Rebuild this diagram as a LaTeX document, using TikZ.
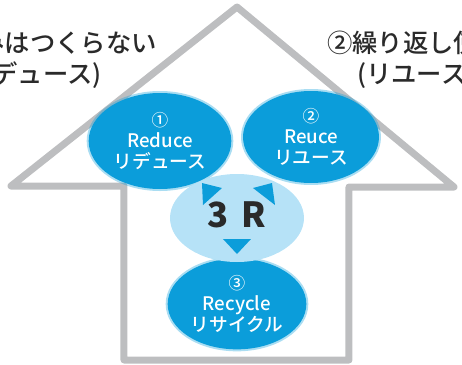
\documentclass[tikz,border=0pt]{standalone}
\usepackage{fontspec}
\setmainfont{Noto Sans CJK JP}
\newfontfamily\jpmedium{Noto Sans CJK JP Medium}
\usetikzlibrary{shapes.geometric}

\definecolor{housegray}{HTML}{BDBEC0}
\definecolor{ballblue}{HTML}{0B9DDA}
\definecolor{coreblue}{HTML}{B6E2F7}
\definecolor{inktext}{HTML}{2A2A2A}

\begin{document}
\begin{tikzpicture}
  [x=0.75pt,y=-0.75pt,
   ball/.style={ellipse,fill=ballblue,text=white,inner sep=0pt,align=center,
     preaction={draw=ballblue,draw opacity=.35,line width=3pt},
     font=\fontsize{14}{16}\selectfont\jpmedium},
   note/.style={inner sep=0pt,text=inktext,font=\fontsize{19}{20}\selectfont\jpmedium}]
  \useasboundingbox (0,0) rectangle (462,365);
  \clip (0,0) rectangle (462,365);

  % house outline
  \draw[housegray,line width=5.25pt,line join=round]
    (124,360) -- (124,186) -- (11,186) -- (237,7) -- (454,187)
    -- (349,187) -- (349,360) -- cycle;

  % captions
  \node[note,anchor=base east] (gomi1) at (157,52) {①ごみはつくらない};
  \node[note,anchor=base east] (gomi2) at (102,83) {(リデュース)};
  \node[note,anchor=base west] (kuri1) at (327,52) {②繰り返し使う};
  \node[note,anchor=base west] (kuri2) at (357,83) {(リユース)};

  % the three R's
  \node[ball,minimum width=107pt,minimum height=72pt] (reduce) at (160,141)
    {{\fontsize{12.5}{12}\selectfont ①}\\[0pt]Reduce\\リデュース};
  \node[ball,minimum width=102pt,minimum height=69pt] (reuse) at (311,137)
    {{\fontsize{12.5}{12}\selectfont ②}\\[0pt]Reuce\\リユース};
  \node[ball,minimum width=104pt,minimum height=68pt] (recycle) at (237,304)
    {{\fontsize{12.5}{12}\selectfont ③}\\[0pt]Recycle\\リサイクル};

  \node[ellipse,fill=coreblue,inner sep=0pt,minimum width=100.5pt,minimum height=66pt] (core) at (237,218) {};
  \node[text=inktext,font=\fontsize{26}{26}\selectfont\bfseries] (three) at (237,215) {3 \kern4pt R};

  % pointers
  \fill[ballblue] (202,183) -- (222,188) -- (203,205) -- cycle;
  \fill[ballblue] (272,183) -- (253,188) -- (275,205) -- cycle;
  \fill[ballblue] (223,239) -- (251,239) -- (237,254) -- cycle;
\end{tikzpicture}
\end{document}
